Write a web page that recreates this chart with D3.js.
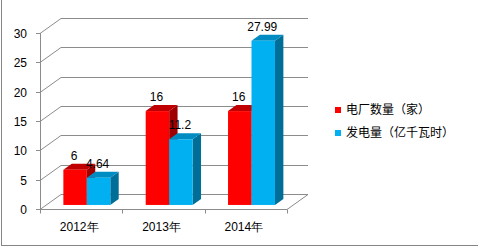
<!DOCTYPE html>
<html>
<head>
<meta charset="utf-8">
<script src="https://cdn.jsdelivr.net/npm/d3@7"></script>
<style>
  body { margin: 0; background: #fff; }
  text { font-family: "Liberation Sans", Arial, sans-serif; font-size: 12px; fill: #000; }
  .cjk { font-family: "Noto Sans CJK SC", sans-serif; }
</style>
</head>
<body>
<script>
var categories = ["2012年", "2013年", "2014年"];
var seriesNames = ["电厂数量（家）", "发电量（亿千瓦时）"];
var plantCount = [6, 16, 16];
var generation = [4.64, 11.2, 27.99];
var yTicks = [0, 5, 10, 15, 20, 25, 30];

var seriesValues = [plantCount, generation];
var frontColor = ["#ff0000", "#00b0f0"],
    topColor = ["#c00000", "#008cc2"],
    sideColor = ["#9e0000", "#006e96"];

var width = 478, height = 247;
var depth = {x: 21, y: -15};      // full depth of the floor
var barFrom = 0.27, barTo = 0.67; // bar placed inside the depth

var svg = d3.select("body").append("svg")
    .attr("width", width)
    .attr("height", height);

svg.append("rect")
    .attr("x", 1.5).attr("y", -5)
    .attr("width", 500).attr("height", 250.5)
    .attr("fill", "none").attr("stroke", "#868686");

var x = d3.scaleBand()
    .domain(categories)
    .range([40, 287])
    .paddingInner(0.43)
    .paddingOuter(0.215);

var xs = d3.scaleBand()
    .domain(d3.range(seriesNames.length))
    .range([0, x.bandwidth()]);

var y = d3.scaleLinear()
    .domain([0, 30])
    .range([209, 33]);

var grid = "#8c8c8c";

// back wall gridlines and left wall diagonals
yTicks.forEach(function(t) {
  var yy = Math.round(y(t)) + 0.5;
  svg.append("path")
      .attr("d", "M40," + yy + "L" + (40 + depth.x) + "," + (yy + depth.y) + "H" + (287 + depth.x))
      .attr("fill", "none").attr("stroke", grid);
  svg.append("line")
      .attr("x1", 36).attr("x2", 40).attr("y1", yy).attr("y2", yy)
      .attr("stroke", grid);
  svg.append("text")
      .attr("x", 27).attr("y", yy).attr("dy", "0.35em")
      .attr("text-anchor", "end")
      .text(t);
});

// floor front edge and right diagonal
var y0 = Math.round(y(0)) + 0.5;
svg.append("path")
    .attr("d", "M40," + y0 + "H287L" + (287 + depth.x) + "," + (y0 + depth.y))
    .attr("fill", "none").attr("stroke", grid);
svg.append("line")
    .attr("x1", 40.5).attr("x2", 40.5).attr("y1", Math.round(y(30))).attr("y2", y0)
    .attr("stroke", grid);

// category ticks
var edges = categories.map(function(c) { return x(c) - x.step() * x.paddingInner() / 2; });
edges.push(287);
edges[0] = 40;
edges.forEach(function(e) {
  var ex = Math.round(e) + 0.5;
  svg.append("line")
      .attr("x1", ex).attr("x2", ex).attr("y1", y0).attr("y2", y0 + 4)
      .attr("stroke", grid);
});

svg.selectAll(".cat")
    .data(categories)
  .enter().append("text")
    .attr("x", function(d) { return x(d) + x.bandwidth() / 2 - 2; })
    .attr("y", 231)
    .attr("text-anchor", "middle")
    .text(function(d) { return d; });

// bars
var fx = depth.x * barFrom, fy = depth.y * barFrom;
var bx = depth.x * (barTo - barFrom), by = depth.y * (barTo - barFrom);

function poly(pts) { return "M" + pts.map(function(p) { return p.join(","); }).join("L") + "Z"; }

categories.forEach(function(c, i) {
  seriesValues.forEach(function(vals, s) {
    var v = vals[i];
    var x0 = x(c) + xs(s) + fx, x1 = x0 + xs.bandwidth();
    var yb = y(0) + fy, yt = y(v) + fy;
    var g = svg.append("g");
    g.append("path")
        .attr("d", poly([[x1, yt], [x1 + bx, yt + by], [x1 + bx, yb + by], [x1, yb]]))
        .attr("fill", sideColor[s]);
    g.append("path")
        .attr("d", poly([[x0, yt], [x0 + bx, yt + by], [x1 + bx, yt + by], [x1, yt]]))
        .attr("fill", topColor[s]);
    g.append("rect")
        .attr("x", x0).attr("y", yt)
        .attr("width", x1 - x0).attr("height", yb - yt)
        .attr("fill", frontColor[s]);
    g.append("text")
        .attr("x", (x0 + x1) / 2 - 1)
        .attr("y", yt + by - 4)
        .attr("text-anchor", "middle")
        .text(v);
  });
});

// legend
var legend = svg.selectAll(".legend")
    .data(seriesNames)
  .enter().append("g")
    .attr("transform", function(d, i) { return "translate(335," + (110 + i * 23) + ")"; });

legend.append("rect")
    .attr("x", 0).attr("y", -3)
    .attr("width", 6).attr("height", 6)
    .attr("fill", function(d, i) { return frontColor[i]; });

legend.append("text")
    .attr("class", "cjk")
    .attr("x", 11).attr("dy", "0.35em")
    .text(function(d) { return d; });
</script>
</body>
</html>
